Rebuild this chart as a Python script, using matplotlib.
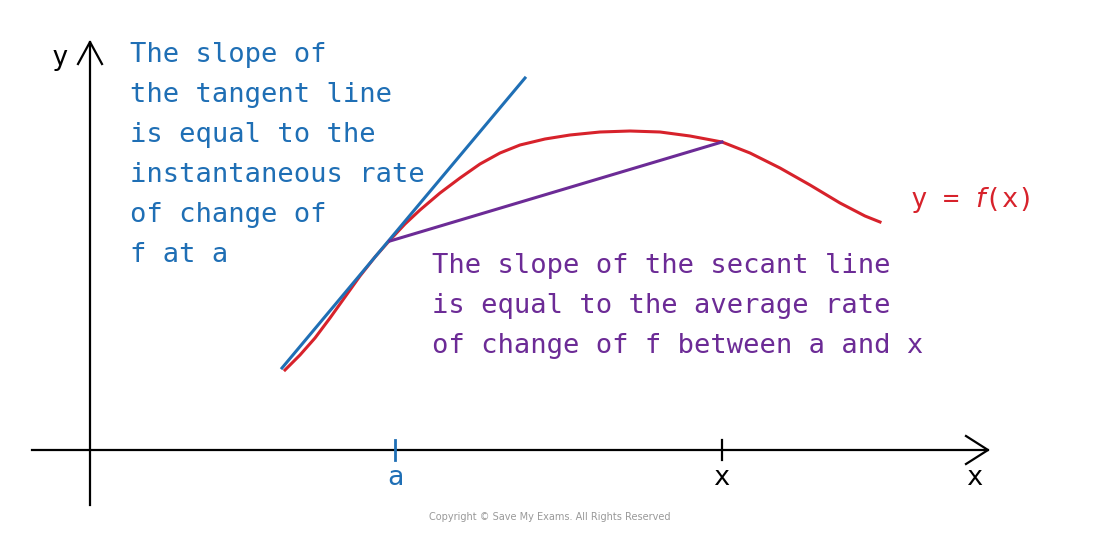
import matplotlib
matplotlib.use("Agg")
import matplotlib.pyplot as plt

# curve points (pixel-space diagram coordinates)
curve_x = [285, 300, 315, 330, 345, 360, 375, 390, 405, 420, 440, 460, 480, 500, 520, 545, 570, 600, 630, 660, 690, 722, 750, 780, 810, 840, 865, 880]
curve_y = [370, 355, 338, 318, 297, 276, 257, 240, 224, 210, 193, 178, 164, 153, 145, 139, 135, 132, 131, 132, 136, 142, 153, 168, 185, 203, 216, 222]
tangent_x = [282, 525]
tangent_y = [368, 78]
secant_x = [390, 722]
secant_y = [241, 142]
tick_pos = [395, 722]
tick_labels = ["a", "x"]

FONT = "DejaVu Sans Mono"
FS = 19.5
fig = plt.figure(figsize=(11, 5.34), dpi=100)
ax = fig.add_axes([0, 0, 1, 1])
ax.set_xlim(0, 1100)
ax.set_ylim(534, 0)
ax.axis("off")

k = "black"
ax.plot([32, 988], [450, 450], color=k, lw=1.6)
ax.plot([966, 988, 966], [436, 450, 464], color=k, lw=1.6)
ax.plot([90, 90], [505, 42], color=k, lw=1.6)
ax.plot([78, 90, 102], [64, 42, 64], color=k, lw=1.6)
ax.text(60, 58, "y", fontsize=FS, family=FONT, ha="center", va="center")
ax.text(975, 478, "x", fontsize=FS, family=FONT, ha="center", va="center")

ax.plot([tick_pos[0]] * 2, [440, 460], color="#1f6fb5", lw=2)
ax.plot([tick_pos[1]] * 2, [440, 460], color=k, lw=1.6)
ax.text(tick_pos[0], 478, tick_labels[0], fontsize=FS, family=FONT, ha="center", va="center", color="#1f6fb5")
ax.text(tick_pos[1], 478, tick_labels[1], fontsize=FS, family=FONT, ha="center", va="center", color=k)

ax.plot(curve_x, curve_y, color="#d7222b", lw=2.2, solid_joinstyle="round")
ax.plot(tangent_x, tangent_y, color="#1f6fb5", lw=2.2)
ax.plot(secant_x, secant_y, color="#6c2b96", lw=2.2)

blue_lines = ["The slope of", "the tangent line", "is equal to the",
              "instantaneous rate", "of change of", "f at a"]
for i, t in enumerate(blue_lines):
    ax.text(130, 55 + 40 * i, t, fontsize=FS, family=FONT, color="#1f6fb5", va="center", ha="left")
purple_lines = ["The slope of the secant line", "is equal to the average rate",
                "of change of f between a and x"]
for i, t in enumerate(purple_lines):
    ax.text(432, 266 + 40 * i, t, fontsize=FS, family=FONT, color="#6c2b96", va="center", ha="left")
ax.text(910, 200, "y = $f$(x)", fontsize=FS, family=FONT, color="#d7222b", va="center", ha="left")
ax.text(550, 517, "Copyright © Save My Exams. All Rights Reserved", fontsize=7,
        color="#999999", ha="center", va="center")

fig.savefig("out.png", dpi=100)
